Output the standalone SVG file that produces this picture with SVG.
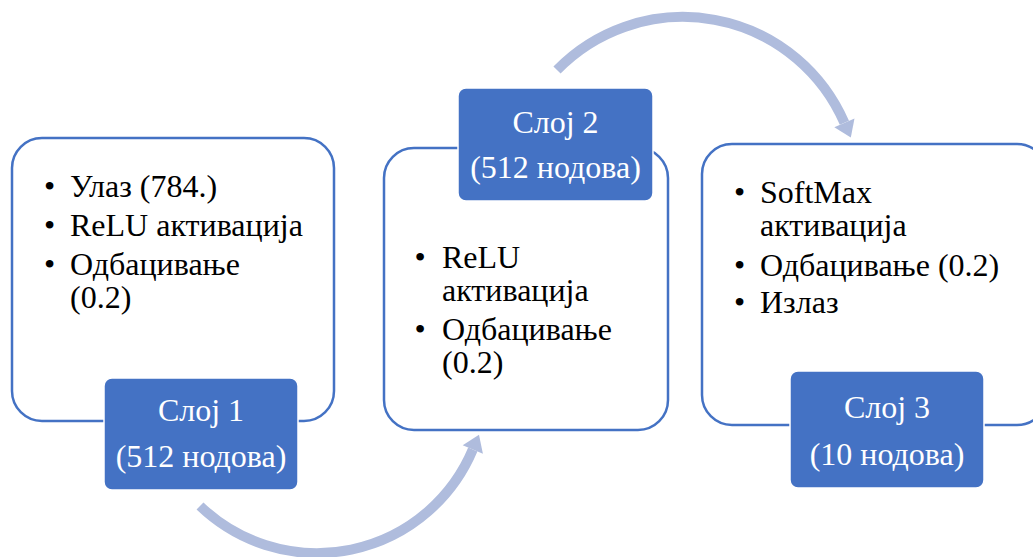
<svg xmlns="http://www.w3.org/2000/svg" width="1033" height="557" viewBox="0 0 1033 557">
<style>
.outline{fill:#fff;stroke:#4472C4;stroke-width:2.5}
.label{fill:#4472C4;stroke:#fff;stroke-width:1.5}
.t{font-family:"Liberation Serif","Times New Roman",serif;font-size:32px;fill:#000}
.w{font-family:"Liberation Serif","Times New Roman",serif;font-size:32px;fill:#fff;text-anchor:middle}
.arc{fill:none;stroke:#AFBCDD;stroke-width:10}
.head{fill:#AFBCDD}
</style>
<rect width="1033" height="557" fill="#fff"/>
<g id="connectors">
<path class="arc" d="M200,506 A169,169 0 0 0 472.8,449.5"/>
<polygon class="head" points="479,434.7 482.9,453.8 462.7,445.2"/>
<path class="arc" d="M557,70 A176,176 0 0 1 844.4,122.8"/>
<polygon class="head" points="850.8,137.5 854.5,118.4 834.3,127.2"/>
</g>
<g id="node1">
<rect class="outline" x="12" y="138" width="322" height="283" rx="30"/>
<text class="t" x="44" y="197">•</text><text class="t" x="70" y="197">Улаз (784.)</text>
<text class="t" x="44" y="236">•</text><text class="t" x="70" y="236">ReLU активација</text>
<text class="t" x="44" y="275">•</text><text class="t" x="70" y="275">Одбацивање</text>
<text class="t" x="70" y="308">(0.2)</text>
<rect class="label" x="104" y="378" width="194" height="112" rx="8"/>
<text class="w" x="201" y="421">Слој 1</text>
<text class="w" x="201" y="467">(512 нодова)</text>
</g>
<g id="node2">
<rect class="outline" x="384" y="148" width="284" height="282" rx="30"/>
<text class="t" x="414.5" y="268">•</text><text class="t" x="442" y="268">ReLU</text>
<text class="t" x="442" y="301">активација</text>
<text class="t" x="414.5" y="340">•</text><text class="t" x="442" y="340">Одбацивање</text>
<text class="t" x="442" y="373">(0.2)</text>
<rect class="label" x="458" y="88" width="195" height="113" rx="8"/>
<text class="w" x="555.5" y="133">Слој 2</text>
<text class="w" x="555.5" y="178">(512 нодова)</text>
</g>
<g id="node3">
<rect class="outline" x="702" y="144" width="345" height="281" rx="30"/>
<text class="t" x="734" y="203">•</text><text class="t" x="760" y="203">SoftMax</text>
<text class="t" x="760" y="236">активација</text>
<text class="t" x="734" y="276">•</text><text class="t" x="760" y="276">Одбацивање (0.2)</text>
<text class="t" x="734" y="313">•</text><text class="t" x="760" y="313">Излаз</text>
<rect class="label" x="790" y="371" width="194" height="117" rx="8"/>
<text class="w" x="887" y="418">Слој 3</text>
<text class="w" x="887" y="465">(10 нодова)</text>
</g>
</svg>
